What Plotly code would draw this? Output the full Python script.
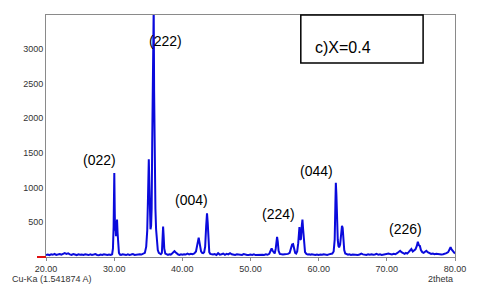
import plotly.graph_objects as go

# XRD pattern c) X=0.4  (2theta, intensity)
two_theta = [
    20.0, 20.25, 20.5, 20.75, 21.0, 21.25, 21.5, 21.75, 22.0, 22.25, 22.5, 22.75, 23.0, 23.25, 23.5, 23.75,
    24.0, 24.25, 24.5, 24.75, 25.0, 25.25, 25.5, 25.75, 26.0, 26.25, 26.5, 26.75, 27.0, 27.25, 27.5, 27.75,
    28.0, 28.25, 28.5, 28.75, 29.0, 29.25, 29.5, 29.7,
    29.82, 29.92, 29.97, 30.02, 30.08, 30.13, 30.2, 30.27, 30.33, 30.42, 30.5, 30.58, 30.7, 30.85,
    31.0, 31.25, 31.5, 31.75, 32.0, 32.25, 32.5, 32.75, 33.0, 33.25, 33.5, 33.75, 34.0, 34.25, 34.5,
    34.7, 34.85, 34.95, 35.03, 35.08, 35.15, 35.25, 35.33, 35.42, 35.5, 35.58, 35.65, 35.72, 35.8,
    35.86, 35.92, 35.98, 36.05, 36.15, 36.25, 36.4, 36.55, 36.7, 36.85, 37.0, 37.1, 37.18, 37.26, 37.35,
    37.5, 37.7, 37.9, 38.1, 38.3, 38.5, 38.7, 38.85, 39.0, 39.2, 39.4, 39.6, 39.8, 40.0, 40.25, 40.5,
    40.75, 41.0, 41.25, 41.5, 41.75, 42.0, 42.15, 42.3, 42.4, 42.5, 42.6, 42.75, 42.9, 43.05, 43.2,
    43.35, 43.5, 43.62, 43.72, 43.82, 43.95, 44.1, 44.3, 44.5, 44.75, 45.0, 45.25, 45.5, 45.75, 46.0,
    46.25, 46.5, 46.75, 47.0, 47.25, 47.5, 47.75, 48.0, 48.25, 48.5, 48.75, 49.0, 49.25, 49.5, 49.75,
    50.0, 50.25, 50.5, 50.75, 51.0, 51.25, 51.5, 51.75, 52.0, 52.25, 52.5, 52.75, 52.95, 53.1, 53.25,
    53.4, 53.55, 53.7, 53.82, 53.9, 54.0, 54.12, 54.3, 54.5, 54.75, 55.0, 55.25, 55.5, 55.75, 55.95,
    56.1, 56.25, 56.4, 56.55, 56.7, 56.85, 57.0, 57.1, 57.18, 57.28, 57.4, 57.52, 57.62, 57.72, 57.85,
    58.0, 58.2, 58.4, 58.6, 58.8, 59.0, 59.25, 59.5, 59.75, 60.0, 60.25, 60.5, 60.75, 61.0, 61.25,
    61.5, 61.75, 62.0, 62.2, 62.35, 62.45, 62.52, 62.6, 62.7, 62.8, 62.9, 63.0, 63.15, 63.3, 63.42,
    63.52, 63.62, 63.75, 63.9, 64.1, 64.3, 64.5, 64.75, 65.0, 65.25, 65.5, 65.75, 66.0, 66.25, 66.5,
    66.75, 67.0, 67.25, 67.5, 67.75, 68.0, 68.25, 68.5, 68.75, 69.0, 69.25, 69.5, 69.75, 70.0, 70.25,
    70.5, 70.75, 71.0, 71.25, 71.5, 71.75, 71.95, 72.15, 72.4, 72.6, 72.8, 73.0, 73.2, 73.4, 73.6,
    73.8, 74.0, 74.2, 74.4, 74.55, 74.7, 74.85, 75.0, 75.2, 75.4, 75.6, 75.8, 76.0, 76.25, 76.5,
    76.75, 77.0, 77.25, 77.5, 77.75, 78.0, 78.25, 78.5, 78.75, 79.0, 79.2, 79.35, 79.5, 79.7, 79.85, 80.0,
]
intensity = [
    30, 35, 28, 40, 32, 45, 30, 38, 42, 35, 50, 55, 45, 52, 38, 30,
    42, 35, 28, 40, 32, 36, 30, 40, 33, 28, 38, 30, 35, 42, 30, 27,
    36, 30, 40, 32, 28, 35, 30, 40,
    120, 440, 900, 1210, 700, 380, 430, 300, 420, 540, 350, 150, 60, 35,
    30, 40, 32, 28, 38, 30, 35, 42, 30, 36, 32, 40, 35, 45, 60,
    150, 380, 800, 1300, 1410, 1100, 600, 400, 450, 700, 1640, 2500, 3600, 3600,
    2400, 1600, 940, 700, 400, 200, 100, 60, 45, 40, 60, 200, 440, 300, 120,
    50, 35, 30, 40, 35, 50, 75, 85, 70, 45, 35, 30, 38, 32, 40, 35,
    48, 38, 45, 40, 50, 80, 170, 250, 280, 220, 150, 80, 60, 55, 70,
    150, 450, 630, 500, 200, 70, 45, 38, 35, 42, 30, 55, 35, 40, 50,
    32, 45, 38, 55, 40, 35, 30, 38, 32, 35, 30, 42, 33, 30, 28,
    35, 30, 38, 28, 32, 36, 30, 34, 30, 38, 32, 45, 90, 125, 90,
    60, 50, 120, 250, 290, 220, 90, 45, 38, 35, 40, 38, 45, 60, 140,
    180, 185, 120, 60, 50, 80, 200, 400, 430, 250, 260, 450, 540, 400, 160,
    70, 45, 35, 38, 32, 40, 33, 30, 37, 30, 35, 32, 40, 35, 30,
    38, 42, 50, 80, 250, 750, 1070, 900, 500, 250, 160, 140, 180, 350, 450,
    420, 250, 100, 50, 38, 32, 40, 30, 35, 32, 38, 30, 35, 50, 38,
    32, 30, 38, 33, 40, 32, 36, 45, 32, 38, 30, 35, 30, 36, 50,
    42, 38, 45, 40, 55, 80, 90, 70, 55, 45, 60, 50, 70, 100, 115,
    80, 90, 110, 160, 220, 170, 160, 100, 70, 60, 80, 90, 70, 55, 45,
    50, 40, 45, 38, 42, 35, 40, 45, 55, 70, 120, 140, 110, 80, 60, 50,
]

x_ticks = [20, 30, 40, 50, 60, 70, 80]
y_ticks = [500, 1000, 1500, 2000, 2500, 3000]

peak_labels = ["(022)", "(222)", "(004)", "(224)", "(044)", "(226)"]
label_x = [27.9, 37.5, 41.4, 54.1, 59.7, 72.7]
label_y = [1393, 3117, 818, 627, 1235, 406]

fig = go.Figure()
fig.add_trace(go.Scatter(x=two_theta, y=intensity, mode="lines",
                         line=dict(color="#0A0ADC", width=2), showlegend=False))

for t, lx, ly in zip(peak_labels, label_x, label_y):
    fig.add_annotation(x=lx, y=ly, text=t, showarrow=False,
                       font=dict(family="Liberation Sans, Arial", size=14, color="black"))

# sample label box
fig.add_shape(type="rect", xref="paper", yref="paper", x0=0.623, x1=0.922, y0=0.802, y1=1.0,
              line=dict(color="black", width=1.5), fillcolor="white", layer="above")
fig.add_annotation(xref="paper", yref="paper", x=0.654, y=0.91, xanchor="left", text="c)X=0.4",
                   showarrow=False, font=dict(family="Liberation Sans, Arial", size=16, color="black"))

# red stub at origin
fig.add_shape(type="line", xref="paper", yref="paper", x0=-0.022, x1=0.0, y0=0.0, y1=0.0,
              line=dict(color="#E01010", width=2))

fig.add_annotation(xref="paper", yref="paper", x=-0.088, y=-0.09, xanchor="left", yanchor="middle",
                   text="Cu-Ka (1.541874 A)", showarrow=False,
                   font=dict(family="Liberation Sans, Arial", size=9, color="#333333"))
fig.add_annotation(xref="paper", yref="paper", x=1.0, y=-0.09, xanchor="right", yanchor="middle",
                   text="2theta", showarrow=False,
                   font=dict(family="Liberation Sans, Arial", size=9, color="#333333"))

fig.update_layout(
    width=464, height=276,
    margin=dict(l=38, r=15, t=6, b=27),
    plot_bgcolor="white", paper_bgcolor="white",
    xaxis=dict(range=[20, 80], tickvals=x_ticks, ticktext=[f"{v:.2f}" for v in x_ticks],
               showgrid=False, zeroline=False, showline=True, linecolor="#8a8a8a", linewidth=1,
               mirror=True, ticks="outside", ticklen=3, tickcolor="#8a8a8a",
               tickfont=dict(family="Liberation Sans, Arial", size=9, color="#333333")),
    yaxis=dict(range=[0, 3490], tickvals=y_ticks, showgrid=False, zeroline=False,
               showline=True, linecolor="#8a8a8a", linewidth=1, mirror=True, ticks="",
               tickfont=dict(family="Liberation Sans, Arial", size=9, color="#333333")),
)

fig.write_html("out.html")
